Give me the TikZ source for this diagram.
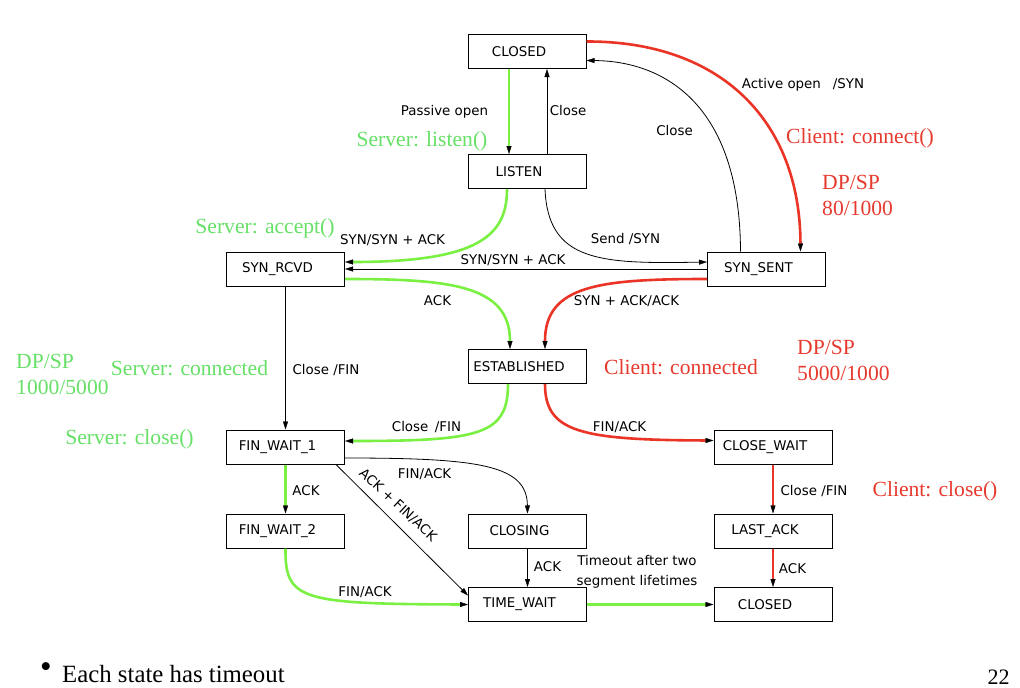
\documentclass[tikz,border=0pt]{standalone}
\usepackage{fontspec}
\setmainfont{Liberation Serif}
\newfontfamily\lblfont{DejaVu Sans}
\usepackage{tikz}
\usetikzlibrary{positioning,arrows.meta}
\definecolor{srvline}{RGB}{122,240,66}
\definecolor{srvtext}{RGB}{102,224,102}
\definecolor{cliline}{RGB}{233,52,38}
\definecolor{clitext}{RGB}{231,58,46}

\begin{document}
\begin{tikzpicture}[x=1pt,y=-1pt,
  state/.style={draw,line width=1pt,minimum width=118pt,minimum height=34pt,inner sep=2pt,
    font={\lblfont\fontsize{13.4}{16}\selectfont},execute at end node={\hspace*{16pt}}},
  lbl/.style={anchor=base,inner sep=0pt,font={\lblfont\fontsize{13.4}{20}\selectfont}},
  note/.style={anchor=base,inner sep=0pt,font={\fontsize{21.6}{26}\selectfont}},
  tr/.style={line width=0.8pt,-{Triangle[length=8pt,width=5pt,line width=0.4pt,color=black]}},
  srv/.style={tr,draw=srvline,line width=2.6pt},
  cli/.style={tr,draw=cliline,line width=2.6pt}]
\useasboundingbox (0,0) rectangle (1020,688);
% TCP states, placed at pixel coordinates of the slide (y grows downwards)
\node[state] (closedA) at (527,51.5) {CLOSED};
\node[state] (listen) at (527,171.5) {LISTEN};
\node[state] (synrcvd) at (285.5,269) {SYN\_RCVD};
\node[state] (synsent) at (766.5,269) {SYN\_SENT};
\node[state] (estab) at (527,366.5) {ESTABLISHED};
\node[state] (finwaitA) at (285.5,447) {FIN\_WAIT\_1};
\node[state] (closewait) at (773,447.5) {CLOSE\_WAIT};
\node[state] (finwaitB) at (285.5,531) {FIN\_WAIT\_2};
\node[state] (closing) at (527.5,531) {CLOSING};
\node[state] (lastack) at (773,531) {LAST\_ACK};
\node[state] (timewait) at (527.5,604.5) {TIME\_WAIT};
\node[state] (closedB) at (773,604.5) {CLOSED};
% server path (green) and plain transitions
\draw[srv] ([xshift=-18pt]closedA.south) -- ([xshift=-18pt]listen.north);
\draw[tr] ([xshift=20pt]listen.north) -- ([xshift=20pt]closedA.south);
\draw[srv] ([xshift=-20pt]listen.south) .. controls (507,235) and (480,262) .. ([yshift=7pt]synrcvd.east);
\draw[tr] ([xshift=18pt]listen.south) .. controls (548,262) and (600,264) .. ([yshift=7pt]synsent.west);
\draw[tr] (synsent.west) -- (synrcvd.east);
\draw[srv] ([yshift=-10pt]synrcvd.east) .. controls (450,279) and (510,285) .. ([xshift=-17pt]estab.north);
\draw[tr] (synrcvd.south) -- (finwaitA.north);
\draw[srv] ([xshift=-19pt]estab.south) .. controls (508,435) and (480,441) .. ([yshift=6pt]finwaitA.east);
\draw[srv] (finwaitA.south) -- (finwaitB.north);
\draw[tr] ([yshift=-11pt]finwaitA.east) .. controls (480,458) and (527,465) .. (closing.north);
\draw[tr] ([xshift=-9pt]finwaitA.south east) -- ([yshift=9pt]timewait.west);
\draw[srv] (finwaitB.south) .. controls (285,600) and (300,604) .. (timewait.west);
\draw[tr] (closing.south) -- (timewait.north);
\draw[srv] (timewait.east) -- (closedB.west);
% client path (red)
\draw[cli] ([yshift=10pt]closedA.east) .. controls (720,41) and (800,120) .. ([xshift=34pt]synsent.north);
\draw[tr] ([xshift=-26pt]synsent.north) .. controls (740,100) and (660,61) .. ([yshift=-9pt]closedA.east);
\draw[cli] ([yshift=-10pt]synsent.west) .. controls (600,279) and (545,285) .. ([xshift=18pt]estab.north);
\draw[cli] ([xshift=18pt]estab.south) .. controls (545,432) and (580,440) .. ([yshift=7pt]closewait.west);
\draw[cli] (closewait.south) -- (lastack.north);
\draw[cli] (lastack.south) -- (closedB.north);
% transition labels
\node[lbl] (lPassive) at (444.5,115) {Passive open};
\node[lbl] (lCloseA) at (568,115) {Close};
\node[lbl] (lActive) at (803,88) {Active open\hspace{12pt}/SYN};
\node[lbl] (lCloseB) at (674.5,135) {Close};
\node[lbl] (lSynA) at (392.5,244) {SYN/SYN + ACK};
\node[lbl] (lSend) at (625.5,243.5) {Send /SYN};
\node[lbl] (lSynB) at (513,264) {SYN/SYN + ACK};
\node[lbl] (lAckA) at (437.5,305) {ACK};
\node[lbl] (lSynAck) at (626.5,305) {SYN + ACK/ACK};
\node[lbl] (lFinA) at (326,374) {Close /FIN};
\node[lbl] (lFinB) at (426.5,431) {Close \,/FIN};
\node[lbl] (lFinAckA) at (619.5,431) {FIN/ACK};
\node[lbl] (lFinAckB) at (424.5,478) {FIN/ACK};
\node[lbl] (lAckB) at (306,495) {ACK};
\node[lbl,anchor=center,rotate=-43] (lAckFin) at (398,505) {ACK + FIN/ACK};
\node[lbl] (lFinC) at (814,495) {Close /FIN};
\node[lbl] (lFinAckC) at (365,596.7) {FIN/ACK};
\node[lbl] (lAckC) at (547.5,571.7) {ACK};
\node[lbl,align=center] (lTimeout) at (637,585) {Timeout after two\\segment lifetimes};
\node[lbl] (lAckD) at (792.5,573) {ACK};
% socket calls and ports
\node[note,text=srvtext] (sListen) at (422,146) {Server: listen()};
\node[note,text=srvtext] (sAccept) at (265,233) {Server: accept()};
\node[note,text=srvtext] (sConn) at (189.5,375.7) {Server: connected};
\node[note,text=srvtext,align=left,anchor=base west] (sPorts) at (16,394) {DP/SP\\1000/5000};
\node[note,text=srvtext] (sClose) at (129.5,444) {Server: close()};
\node[note,text=clitext] (cConnect) at (860,143) {Client: connect()};
\node[note,text=clitext,align=left,anchor=base west] (cPortsA) at (822,215.7) {DP/SP\\80/1000};
\node[note,text=clitext] (cConn) at (681,374) {Client: connected};
\node[note,text=clitext,align=left,anchor=base west] (cPortsB) at (797,380) {DP/SP\\5000/1000};
\node[note,text=clitext] (cClose) at (935,496.7) {Client: close()};
% slide footer
\node[anchor=base,inner sep=0pt,font=\fontsize{33}{36}\selectfont] (bullet) at (46,677) {•};
\node[anchor=base west,inner sep=0pt,font=\fontsize{24.8}{28}\selectfont] (remark) at (62,682) {Each state has timeout};
\node[anchor=base,inner sep=0pt,font=\fontsize{22}{26}\selectfont] (pageno) at (998.5,684) {22};
\end{tikzpicture}
\end{document}
